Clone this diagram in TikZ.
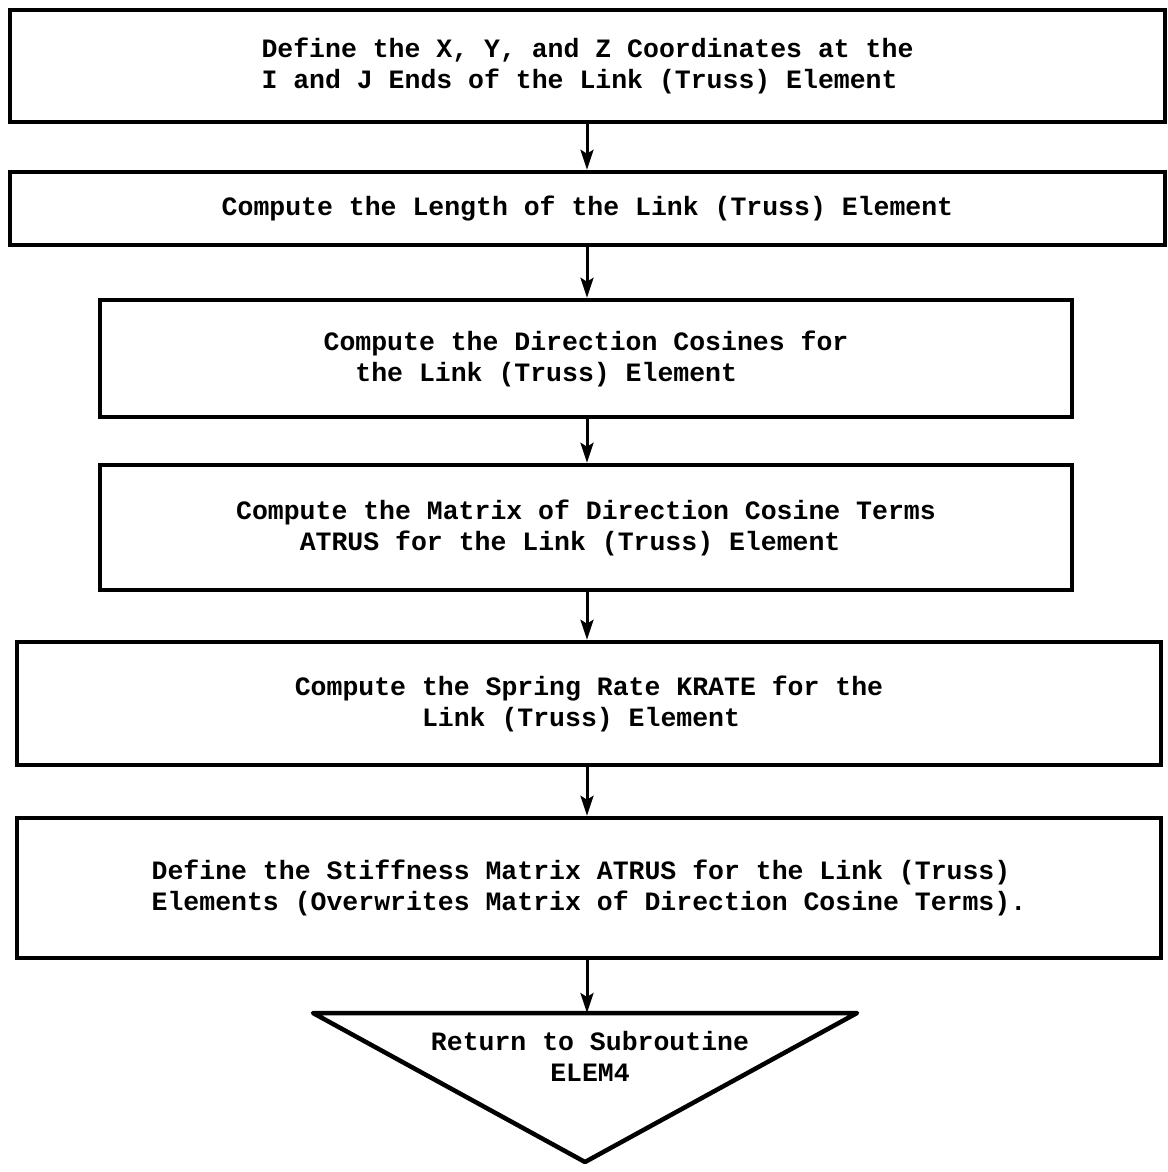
\documentclass[tikz,border=0pt]{standalone}
\usepackage{fontspec}
\setmonofont{Liberation Mono}
\usetikzlibrary{arrows.meta}
\tikzset{
  txt/.style={font=\fontsize{26.5}{31}\selectfont\ttfamily\bfseries\frenchspacing},
  stepbox/.style={draw, line width=4.5pt, inner sep=0pt, txt, align=left},
  arr/.style={line width=3pt, -{Stealth[length=20pt,width=13pt,inset=4pt]}},
}
\begin{document}
\begin{tikzpicture}[x=1pt,y=-1pt]
\useasboundingbox (0,0) rectangle (1167,1172);
\coordinate (axis) at (587,0);
\node[stepbox, minimum width=1155pt, minimum height=112pt] (b1) at (587.5,66)
  {Define the X, Y, and Z Coordinates at the\\I and J Ends of the Link (Truss) Element};
\node[stepbox, minimum width=1155pt, minimum height=73pt] (b2) at (587.5,208.5)
  {Compute the Length of the Link (Truss) Element};
\node[stepbox, minimum width=972pt, minimum height=117pt] (b3) at (586,358.5)
  {Compute the Direction Cosines for\\\phantom{xx}the Link (Truss) Element};
\node[stepbox, minimum width=972pt, minimum height=125pt] (b4) at (586,527.5)
  {Compute the Matrix of Direction Cosine Terms\\\phantom{xxxx}ATRUS for the Link (Truss) Element};
\node[stepbox, minimum width=1144pt, minimum height=123pt] (b5) at (589,703.5)
  {Compute the Spring Rate KRATE for the\\\phantom{xxxxxxxx}Link (Truss) Element};
\node[stepbox, minimum width=1144pt, minimum height=140pt] (b6) at (589,888)
  {Define the Stiffness Matrix ATRUS for the Link (Truss)\\Elements (Overwrites Matrix of Direction Cosine Terms).};
\coordinate (tl) at (313,1013);
\coordinate (tr) at (857,1013);
\coordinate (tb) at (585,1162);
\draw[line width=4.5pt, line join=round] (tl) -- (tr) -- (tb) -- cycle;
\node[txt, align=center, inner sep=0pt] (ret) at (590,1056) {Return to Subroutine\\ELEM4};
\draw[arr] (b1.south -| axis) -- (b2.north -| axis);
\draw[arr] (b2.south -| axis) -- (b3.north -| axis);
\draw[arr] (b3.south -| axis) -- (b4.north -| axis);
\draw[arr] (b4.south -| axis) -- (b5.north -| axis);
\draw[arr] (b5.south -| axis) -- (b6.north -| axis);
\draw[arr] (b6.south -| axis) -- (tl -| axis);
\end{tikzpicture}
\end{document}
